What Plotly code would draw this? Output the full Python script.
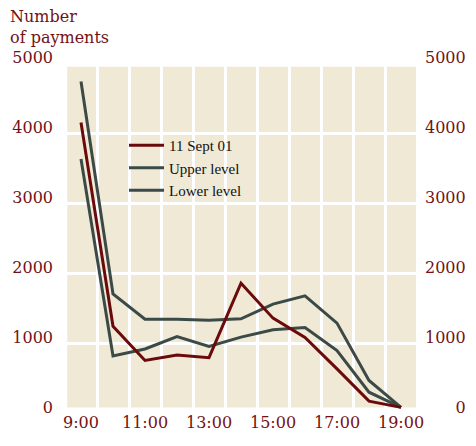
import plotly.graph_objects as go

hours = [9, 10, 11, 12, 13, 14, 15, 16, 17, 18, 19]
sept11 = [4150, 1240, 750, 830, 790, 1855, 1355, 1080, 630, 170, 80]
upper = [4735, 1700, 1340, 1340, 1325, 1345, 1555, 1673, 1284, 465, 80]
lower = [3630, 815, 915, 1093, 950, 1084, 1188, 1221, 893, 297, 80]

x_tickvals = [9, 11, 13, 15, 17, 19]
x_ticktext = ["9:00", "11:00", "13:00", "15:00", "17:00", "19:00"]
x_gridvals = [9.5, 10.5, 11.5, 12.5, 13.5, 14.5, 15.5, 16.5, 17.5, 18.5]
y_tickvals = [0, 1000, 2000, 3000, 4000, 5000]
y_ticktext = ["0", "1000", "2000", "3000", "4000", "5000"]

RED = "#6b0a0c"
GREY = "#3c4a47"
TXT = "#721116"
BG = "#efe9d6"
FS = "\u2007"

fig = go.Figure()
fig.add_trace(go.Scatter(x=hours, y=sept11, name="11 Sept 01", mode="lines",
                         line=dict(color=RED, width=3), yaxis="y2"))
fig.add_trace(go.Scatter(x=hours, y=upper, name="Upper level", mode="lines",
                         line=dict(color=GREY, width=3)))
fig.add_trace(go.Scatter(x=hours, y=lower, name="Lower level", mode="lines",
                         line=dict(color=GREY, width=3)))

tickfont = dict(family="DejaVu Serif", size=16, color=TXT)
# the page body adds an 8px offset; figure coordinates below account for it
W, H = 468, 438
L, T, PW, PH = 57, 55, 352, 350
R, B = W - L - PW, H - T - PH

fig.update_layout(
    width=W, height=H,
    margin=dict(l=L, r=R, t=T, b=B),
    paper_bgcolor="white", plot_bgcolor="white",
    showlegend=True,
    legend=dict(x=(116 - L) / PW, y=(T + PH - 121) / PH, xanchor="left", yanchor="top",
                bgcolor="rgba(0,0,0,0)", borderwidth=0, itemwidth=35,
                font=dict(family="Liberation Serif", size=15, color="#111111")),
    annotations=[dict(text="Number<br>of payments", xref="paper", yref="paper",
                      x=(0 - L) / PW, y=(T + PH + 3) / PH, xanchor="left", yanchor="top",
                      align="left", showarrow=False,
                      font=dict(family="DejaVu Serif", size=16, color=TXT))],
    xaxis=dict(range=[8.5, 19.5], tickvals=x_tickvals, ticktext=x_ticktext,
               showgrid=False, zeroline=False, showline=False, ticks="",
               tickfont=tickfont, ticklabelstandoff=-2, automargin=False,
               minor=dict(tickvals=x_gridvals, showgrid=True, gridcolor="white",
                          gridwidth=3, ticks="")),
    yaxis=dict(range=[0, 5000], tickvals=y_tickvals, ticktext=y_ticktext,
               showgrid=True, gridcolor="white", gridwidth=3, zeroline=False,
               showline=False, ticks="", tickfont=tickfont, automargin=False,
               ticklabelstandoff=11, ticklabelshift=-6),
    yaxis2=dict(range=[0, 5000], overlaying="y", side="right", matches="y",
                tickvals=y_tickvals,
                ticktext=[FS * (4 - len(t)) + t for t in y_ticktext],
                showgrid=False, zeroline=False, showline=False, ticks="",
                tickfont=tickfont, ticklabelstandoff=7, ticklabelshift=-6,
                automargin=False),
    shapes=[dict(type="rect", xref="x", yref="y", x0=8.57, x1=19.47, y0=80, y1=4947,
                 fillcolor=BG, line=dict(width=0), layer="below")],
)

fig.write_html("out.html")
